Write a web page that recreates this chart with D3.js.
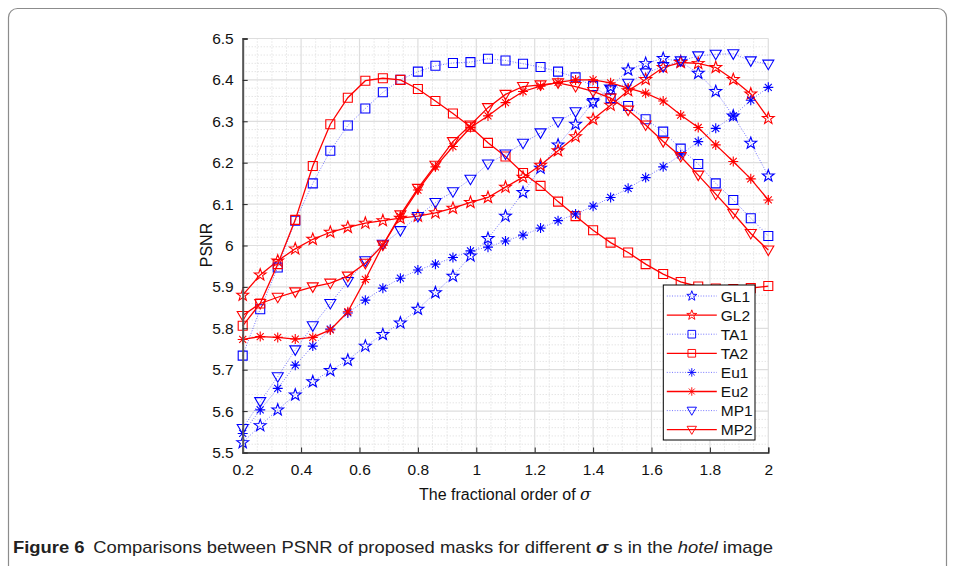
<!DOCTYPE html>
<html>
<head>
<meta charset="utf-8">
<script src="https://cdn.jsdelivr.net/npm/d3@7"></script>
<style>
  body { margin: 0; background: #fff; }
  text { font-family: "Liberation Sans", Arial, sans-serif; }
</style>
</head>
<body>
<svg id="chart"></svg>
<script>
// sigma values (x axis)
const sigma = [0.2, 0.26, 0.32, 0.38, 0.44, 0.5, 0.56, 0.62, 0.68, 0.74, 0.8, 0.86, 0.92, 0.98, 1.04,
  1.1, 1.16, 1.22, 1.28, 1.34, 1.4, 1.46, 1.52, 1.58, 1.64, 1.7, 1.76, 1.82, 1.88, 1.94, 2.0];

const gl1 = [5.524, 5.565, 5.603, 5.639, 5.671, 5.698, 5.723, 5.757, 5.785, 5.813, 5.846, 5.886, 5.926, 5.975, 6.017,
  6.071, 6.128, 6.187, 6.243, 6.293, 6.347, 6.383, 6.424, 6.440, 6.452, 6.444, 6.416, 6.372, 6.313, 6.247, 6.168];
const gl2 = [5.880, 5.929, 5.963, 5.992, 6.015, 6.032, 6.044, 6.054, 6.060, 6.066, 6.071, 6.079, 6.090, 6.104, 6.116,
  6.141, 6.165, 6.194, 6.229, 6.263, 6.305, 6.339, 6.374, 6.401, 6.430, 6.442, 6.440, 6.430, 6.401, 6.366, 6.307];
const ta1 = [5.734, 5.846, 5.947, 6.060, 6.150, 6.229, 6.290, 6.331, 6.370, 6.400, 6.420, 6.434, 6.441, 6.443, 6.451,
  6.447, 6.439, 6.431, 6.420, 6.406, 6.385, 6.356, 6.337, 6.305, 6.275, 6.234, 6.197, 6.150, 6.110, 6.066, 6.023];
const ta2 = [5.806, 5.860, 5.955, 6.062, 6.192, 6.293, 6.357, 6.398, 6.404, 6.400, 6.378, 6.349, 6.319, 6.287, 6.248,
  6.215, 6.175, 6.144, 6.106, 6.071, 6.037, 6.007, 5.983, 5.955, 5.931, 5.912, 5.901, 5.896, 5.895, 5.897, 5.902];
const eu1 = [5.546, 5.603, 5.655, 5.711, 5.757, 5.798, 5.837, 5.868, 5.897, 5.921, 5.941, 5.955, 5.971, 5.987, 5.996,
  6.011, 6.025, 6.042, 6.060, 6.076, 6.095, 6.116, 6.138, 6.164, 6.190, 6.219, 6.251, 6.283, 6.313, 6.351, 6.382];
const eu2 = [5.773, 5.780, 5.778, 5.774, 5.778, 5.796, 5.840, 5.918, 6.001, 6.070, 6.134, 6.190, 6.239, 6.285, 6.313,
  6.345, 6.372, 6.385, 6.394, 6.400, 6.400, 6.393, 6.380, 6.368, 6.349, 6.315, 6.285, 6.243, 6.203, 6.161, 6.110];
const mp1 = [5.558, 5.623, 5.683, 5.748, 5.806, 5.860, 5.913, 5.963, 6.003, 6.036, 6.070, 6.104, 6.130, 6.160, 6.197,
  6.221, 6.247, 6.272, 6.299, 6.323, 6.345, 6.376, 6.392, 6.417, 6.432, 6.446, 6.458, 6.462, 6.463, 6.446, 6.438];
const mp2 = [5.831, 5.860, 5.875, 5.888, 5.900, 5.909, 5.926, 5.957, 6.001, 6.074, 6.138, 6.194, 6.251, 6.291, 6.333,
  6.365, 6.384, 6.388, 6.393, 6.384, 6.372, 6.356, 6.327, 6.291, 6.251, 6.215, 6.170, 6.124, 6.078, 6.029, 5.989];

const seriesNames = ["GL1", "GL2", "TA1", "TA2", "Eu1", "Eu2", "MP1", "MP2"];
const seriesValues = [gl1, gl2, ta1, ta2, eu1, eu2, mp1, mp2];
const seriesMarkers = ["star", "star", "square", "square", "asterisk", "asterisk", "tri", "tri"];

const xTicks = [0.2, 0.4, 0.6, 0.8, 1, 1.2, 1.4, 1.6, 1.8, 2];
const yTicks = [5.5, 5.6, 5.7, 5.8, 5.9, 6, 6.1, 6.2, 6.3, 6.4, 6.5];

const svgWidth = 955, svgHeight = 566;
const margin = {left: 242.7, top: 38.5, right: 955 - 768.3, bottom: 566 - 452.5};
const width = svgWidth - margin.left - margin.right;
const height = svgHeight - margin.top - margin.bottom;

const svg = d3.select("#chart")
  .attr("width", svgWidth)
  .attr("height", svgHeight);

// figure frame
svg.append("rect")
  .attr("x", 8.5).attr("y", 8.5)
  .attr("width", 938).attr("height", 620)
  .attr("rx", 9)
  .attr("fill", "none")
  .attr("stroke", "#8c8c8c")
  .attr("stroke-width", 1.2);

const g = svg.append("g")
  .attr("transform", "translate(" + margin.left + "," + margin.top + ")");

const x = d3.scaleLinear().domain([0.2, 2]).range([0, width]);
const y = d3.scaleLinear().domain([5.5, 6.5]).range([height, 0]);

// minor grid
const xMinor = d3.range(0.2, 2.0001, 0.05).filter(v => Math.abs(Math.round(v * 5) - v * 5) > 1e-6);
const yMinor = d3.range(5.5, 6.5001, 0.02).filter(v => Math.abs(Math.round(v * 10) - v * 10) > 1e-6);

g.selectAll(".xminor").data(xMinor).enter().append("line")
  .attr("x1", d => x(d)).attr("x2", d => x(d))
  .attr("y1", 0).attr("y2", height)
  .attr("stroke", "#cfcfcf").attr("stroke-width", 0.8)
  .attr("stroke-dasharray", "1,2");
g.selectAll(".yminor").data(yMinor).enter().append("line")
  .attr("x1", 0).attr("x2", width)
  .attr("y1", d => y(d)).attr("y2", d => y(d))
  .attr("stroke", "#cfcfcf").attr("stroke-width", 0.8)
  .attr("stroke-dasharray", "1,2");

// major grid
g.selectAll(".xmajor").data(xTicks).enter().append("line")
  .attr("x1", d => x(d)).attr("x2", d => x(d))
  .attr("y1", 0).attr("y2", height)
  .attr("stroke", "#dedede").attr("stroke-width", 1.2);
g.selectAll(".ymajor").data(yTicks).enter().append("line")
  .attr("x1", 0).attr("x2", width)
  .attr("y1", d => y(d)).attr("y2", d => y(d))
  .attr("stroke", "#dedede").attr("stroke-width", 1.2);

// marker paths
const markerPath = (type) => {
  if (type == "square") return "M-4.5,-4.5H4.5V4.5H-4.5Z";
  if (type == "tri") return "M-5.5,-4L5.5,-4L0,5.5Z";
  if (type == "asterisk") return "M0,-5V5M-5,0H5M-3.5,-3.5L3.5,3.5M-3.5,3.5L3.5,-3.5";
  // star
  let pts = [];
  for (let k = 0; k < 10; k++) {
    let r = k % 2 == 0 ? 6.2 : 2.5;
    let a = -Math.PI / 2 + k * Math.PI / 5;
    pts.push([r * Math.cos(a), r * Math.sin(a)]);
  }
  return "M" + pts.map(p => p[0].toFixed(2) + "," + p[1].toFixed(2)).join("L") + "Z";
};

const styleFor = (i) => i % 2 == 0
  ? {color: "#0000ff", width: 0.9, dash: "1,1.6", opacity: 0.6}
  : {color: "#ff0000", width: 1.3, dash: null, opacity: 1};

const line = d3.line()
  .x((d, i) => x(sigma[i]))
  .y(d => y(d));

seriesValues.forEach((vals, s) => {
  let st = styleFor(s);
  g.append("path")
    .datum(vals)
    .attr("fill", "none")
    .attr("stroke", st.color)
    .attr("stroke-width", st.width)
    .attr("stroke-opacity", st.opacity)
    .attr("stroke-dasharray", st.dash)
    .attr("d", line);

  g.selectAll(".m" + s)
    .data(vals)
  .enter().append("path")
    .attr("transform", (d, i) => "translate(" + x(sigma[i]) + "," + y(d) + ")")
    .attr("d", markerPath(seriesMarkers[s]))
    .attr("fill", "none")
    .attr("stroke", st.color)
    .attr("stroke-width", 1.1);
});

// axes
const fmt = d => String(+d.toFixed(1));
const xAxis = g.append("g")
  .attr("transform", "translate(0," + height + ")")
  .call(d3.axisBottom(x).tickValues(xTicks).tickFormat(fmt).tickSize(-5).tickPadding(11));
const yAxis = g.append("g")
  .call(d3.axisLeft(y).tickValues(yTicks).tickFormat(fmt).tickSize(-5).tickPadding(9));

[xAxis, yAxis].forEach(a => {
  a.select(".domain").attr("stroke", "#262626").attr("stroke-width", 1.3);
  a.selectAll(".tick line").attr("stroke", "#262626").attr("stroke-width", 1);
  a.selectAll("text")
    .attr("font-family", "Liberation Sans, Arial, sans-serif")
    .attr("font-size", 15.5)
    .attr("fill", "#111");
});
yAxis.select(".domain").attr("stroke", "#555").attr("stroke-width", 2);

// axis titles
const xTitle = svg.append("text")
  .attr("x", 505).attr("y", 500)
  .attr("text-anchor", "middle")
  .attr("font-size", 16)
  .attr("fill", "#111");
xTitle.append("tspan").text("The fractional order of ");
xTitle.append("tspan").attr("font-style", "italic").attr("font-family", "DejaVu Serif").text("σ");

svg.append("text")
  .attr("transform", "translate(212,245) rotate(-90)")
  .attr("text-anchor", "middle")
  .attr("font-size", 16)
  .attr("fill", "#111")
  .text("PSNR");

// legend
const legend = svg.append("g").attr("transform", "translate(663.3,285)");
legend.append("rect")
  .attr("width", 91.7).attr("height", 155)
  .attr("fill", "#fff")
  .attr("stroke", "#000").attr("stroke-width", 1);

seriesNames.forEach((name, s) => {
  let st = styleFor(s);
  let ly = 11 + s * 19.1;
  legend.append("line")
    .attr("x1", 3.5).attr("x2", 53.5)
    .attr("y1", ly).attr("y2", ly)
    .attr("stroke", st.color)
    .attr("stroke-width", st.width)
    .attr("stroke-opacity", st.opacity)
    .attr("stroke-dasharray", st.dash);
  legend.append("path")
    .attr("transform", "translate(28.5," + ly + ") scale(0.85)")
    .attr("d", markerPath(seriesMarkers[s]))
    .attr("fill", "none")
    .attr("stroke", st.color)
    .attr("stroke-width", 1.1);
  legend.append("text")
    .attr("x", 57.5).attr("y", ly + 5.5)
    .attr("font-size", 15.5)
    .attr("fill", "#111")
    .text(name);
});

// caption
const cap = svg.append("text")
  .attr("x", 13).attr("y", 553)
  .attr("font-family", "Open Sans, sans-serif")
  .attr("font-size", 17)
  .attr("fill", "#222")
  .attr("textLength", 760)
  .attr("lengthAdjust", "spacingAndGlyphs");
cap.append("tspan").attr("font-weight", "bold").text("Figure 6");
cap.append("tspan").attr("dx", 8).text("Comparisons between PSNR of proposed masks for different ");
cap.append("tspan").attr("font-weight", "bold").attr("font-style", "italic").text("σ");
cap.append("tspan").text(" s in the ");
cap.append("tspan").attr("font-style", "italic").text("hotel");
cap.append("tspan").text(" image");
</script>
</body>
</html>
